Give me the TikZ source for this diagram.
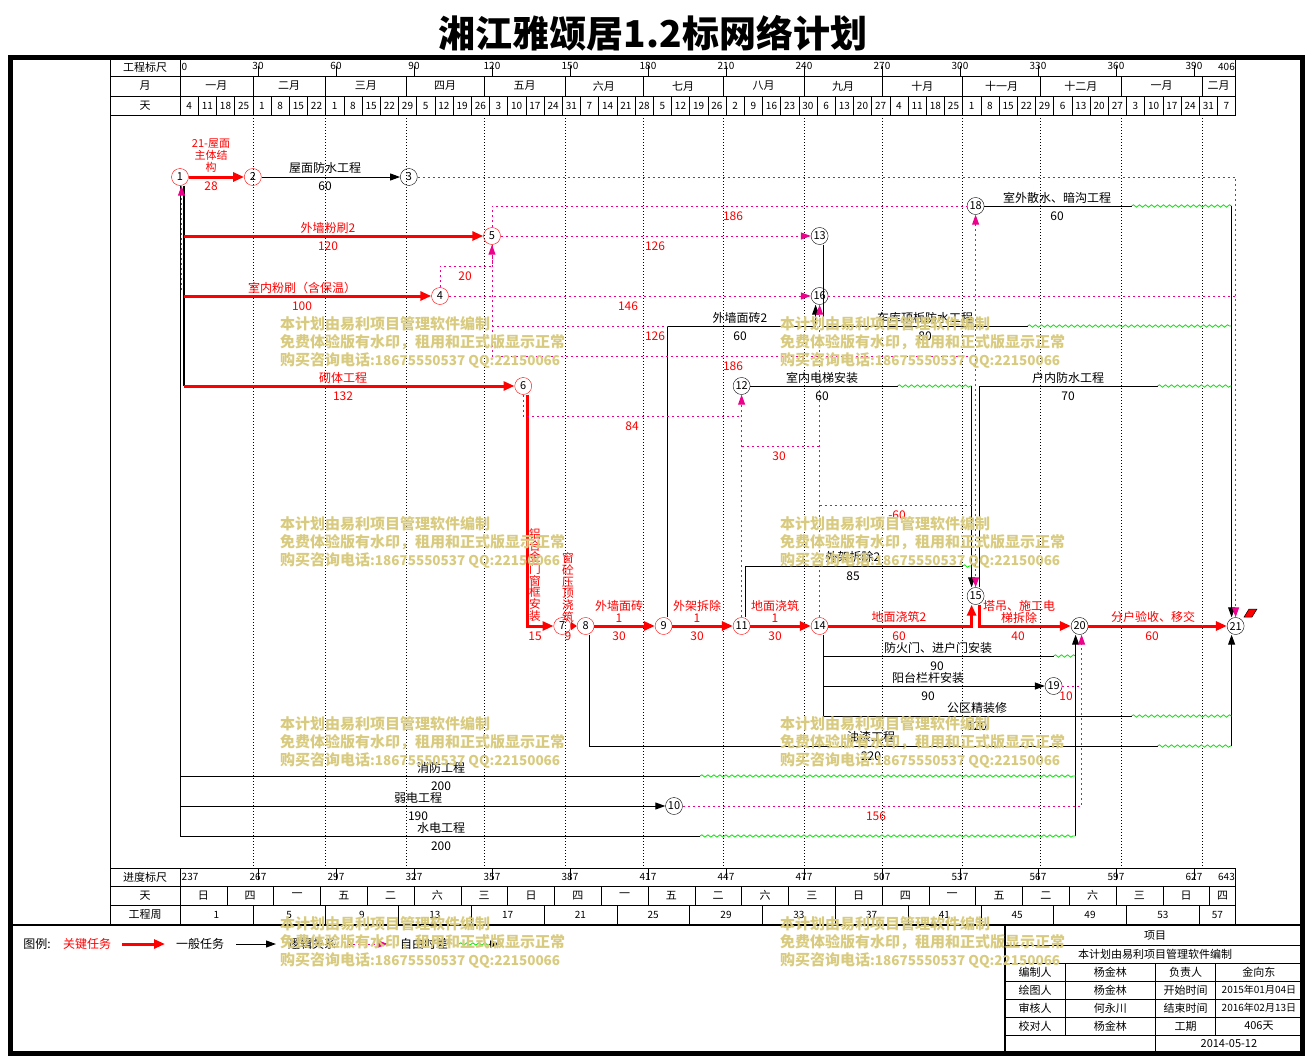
\documentclass[tikz,border=0pt]{standalone}
\usepackage{fontspec}
\setmainfont{Noto Sans CJK SC}
\usetikzlibrary{arrows.meta,decorations.pathmorphing,positioning}
\definecolor{wmark}{RGB}{216,203,128}
\definecolor{fltgreen}{RGB}{0,230,0}
\newcommand\fsz[1]{\fontsize{#1}{#1}\selectfont}

\begin{document}
\begin{tikzpicture}[x=1pt,y=-1pt,
    ev/.style={circle,draw,minimum size=17pt,inner sep=0pt,font=\fsz{11}},
    evr/.style={ev,draw=red},
    crit/.style={draw=red,line width=3pt,-{Triangle[length=11pt,width=9pt]}},
    gen/.style={draw=black,line width=1pt,-{Triangle[length=10pt,width=7pt]}},
    dum/.style={draw=magenta,line width=1pt,dash pattern=on 2pt off 3pt,-{Triangle[length=10pt,width=7pt]}},
    fl/.style={draw=fltgreen,line width=0.8pt,decorate,decoration={snake,amplitude=1.2pt,segment length=6pt}},
    grid/.style={line width=0.6pt,dash pattern=on 1pt off 2pt},
    t/.style={font=\fsz{12},inner sep=0pt},
    tr/.style={t,text=red},
    hd/.style={font=\fsz{11},inner sep=0pt},
    dn/.style={font=\fsz{10},inner sep=0pt},
    wm/.style={font=\fsz{15}\bfseries,text=wmark,inner sep=0pt,anchor=west}]
\useasboundingbox (0,0) rectangle (1309,1060);

% title and frame
\node[font=\fsz{37}\bfseries] (title) at (653,33) {湘江雅颂居1.2标网络计划};
\draw[line width=5pt] (10.5,57.5) rectangle (1302.5,1053.5);

% time scale table
\draw[line width=1pt] (110,76) -- (1235.6,76) (110,96) -- (1235.6,96) (110,115) -- (1235.6,115)
    (110,868) -- (1235.6,868) (110,886) -- (1235.6,886) (110,905) -- (1235.6,905);
\draw[line width=1pt] (110,57) -- (110,925) (180,57) -- (180,115) (180,868) -- (180,925)
    (1235.6,57) -- (1235.6,115) (1235.6,868) -- (1235.6,925);
\draw[line width=2.5pt] (10,925) -- (1303,925);
\node[hd] (hscale) at (145,67) {工程标尺};
\node[hd] (hmonth) at (145,86) {月};
\node[hd] (hday) at (145,105.5) {天};
\node[hd] (fscale) at (145,877) {进度标尺};
\node[hd] (fday) at (145,895.5) {天};
\node[hd] (fweek) at (145,914.5) {工程周};
\node[dn,anchor=west] (tk0) at (181.5,67) {0};
\node[dn,anchor=east] (tk406) at (1235,67) {406};
\node[dn,anchor=west] (pk0) at (181.5,877) {237};
\node[dn,anchor=east] (pk406) at (1235,877) {643};
\foreach \d in {30,60,...,390} {
    \pgfmathtruncatemacro\p{237+\d}
    \draw ({180+2.6*\d},66) -- ({180+2.6*\d},76);
    \node[dn] (tk\d) at ({180+2.6*\d},66) {\d};
    \draw ({180+2.6*\d},868) -- ({180+2.6*\d},880);
    \node[dn] (pk\d) at ({180+2.6*\d},877) {\p};
}
\foreach \a/\b/\m in {0/28/一月,28/56/二月,56/87/三月,87/117/四月,117/148/五月,148/178/六月,
    178/209/七月,209/240/八月,240/270/九月,270/301/十月,301/331/十一月,331/362/十二月,362/393/一月,393/406/二月} {
    \node[hd] (mo\a) at ({180+1.3*(\a+\b)},86) {\m};
    \ifnum\b<406
      \draw ({180+2.6*\b},76) -- ({180+2.6*\b},96);
      \draw[grid] ({180+2.6*\b},115) -- ({180+2.6*\b},868);
    \fi
}
\foreach \tx [count=\k from 0] in {4,11,18,25,1,8,15,22,1,8,15,22,29,5,12,19,26,3,10,17,24,31,7,14,21,28,
    5,12,19,26,2,9,16,23,30,6,13,20,27,4,11,18,25,1,8,15,22,29,6,13,20,27,3,10,17,24,31,7} {
    \node[dn] (wd\k) at ({180+2.6*(7*\k+3.5)},105.5) {\tx};
    \ifnum\k<57 \draw ({180+18.2*(\k+1)},96) -- ({180+18.2*(\k+1)},115); \fi
}
\foreach \tx [count=\k from 0] in {日,四,一,五,二,六,三,日,四,一,五,二,六,三,日,四,一,五,二,六,三,日,四} {
    \pgfmathsetmacro\c{min(18*\k+9,(18*\k+406)/2)}
    \node[hd] (wk\k) at ({180+2.6*\c},895.5) {\tx};
    \ifnum\k<22 \draw ({180+46.8*(\k+1)},886) -- ({180+46.8*(\k+1)},905); \fi
}
\foreach \k in {0,...,14} {
    \pgfmathsetmacro\c{min(28*\k+14,(28*\k+406)/2)}
    \pgfmathtruncatemacro\w{4*\k+1}
    \node[dn] (pw\k) at ({180+2.6*\c},914.5) {\w};
    \ifnum\k<14 \draw ({180+72.8*(\k+1)},905) -- ({180+72.8*(\k+1)},925); \fi
}

% events
\node[evr] (n1) at (180,177) {1};
\node[evr] (n2) at (252.8,177) {2};
\node[ev] (n3) at (408.8,177) {3};
\node[evr] (n4) at (440,296) {4};
\node[evr] (n5) at (492,236) {5};
\node[evr] (n6) at (523.2,386) {6};
\node[evr] (n7) at (562.2,626) {7};
\node[evr] (n8) at (585.6,626) {8};
\node[evr] (n9) at (663.6,626) {9};
\node[ev] (n10) at (674,806) {10};
\node[evr] (n11) at (741.6,626) {11};
\node[ev] (n12) at (741.6,386) {12};
\node[ev] (n13) at (819.6,236) {13};
\node[evr] (n14) at (819.6,626) {14};
\node[ev] (n15) at (975.6,596) {15};
\node[ev] (n16) at (819.6,296) {16};
\node[ev] (n18) at (975.6,206) {18};
\node[ev] (n19) at (1053.6,686) {19};
\node[ev] (n20) at (1079.6,626) {20};
\node[ev] (n21) at (1235.6,626) {21};
\fill[red,draw=black,line width=0.5pt] (1244,617) -- (1249,609) -- (1257,609) -- (1252,617) -- cycle;

% trunks from event 1
\coordinate (t1) at ([xshift=4pt]n1.south);
\draw[line width=2.5pt] (t1) -- (t1 |- n6);
\draw[line width=1pt] (n1.south) -- (180,836);

% critical tasks
\draw[crit] (n1) -- (n2);
\draw[crit] (t1 |- n5) -- (n5);
\draw[crit] (t1 |- n4) -- (n4);
\draw[crit] (t1 |- n6) -- (n6);
\draw[crit] ([xshift=4pt]n6.south) |- (n7);
\draw[crit,-{Triangle[length=6pt,width=8pt]}] (n7) -- (n8);
\draw[crit] (n8) -- (n9);
\draw[crit] (n9) -- (n11);
\draw[crit] (n11) -- (n14);
\draw[crit] (n14) -| ([xshift=-4pt]n15.south);
\draw[crit] ([xshift=4pt]n15.south) |- (n20);
\draw[crit] (n20) -- (n21);

% general tasks
\draw[gen] (n2) -- (n3);
\draw[gen] ([xshift=4pt]n9.north) |- (815.6,326) -- ([xshift=-4pt]n16.south);
\draw[gen,-] ([xshift=4pt]n13.south) |- (1027.6,326);
\draw[fl] (1027.6,326) -- (1231.6,326);
\draw[gen,-] (n18) -- (1131.6,206);
\draw[fl] (1131.6,206) -- (1231.6,206);
\draw[gen] (1231.6,206) -- ([xshift=-4pt]n21.north);
\draw[gen,-] (n12) -- (897.6,386);
\draw[fl] (897.6,386) -- (971.6,386);
\draw[gen] (971.6,386) -- ([xshift=-4pt]n15.north);
\draw[gen,-] ([xshift=4pt]n15.north) |- (1157.6,386);
\draw[fl] (1157.6,386) -- (1231.6,386);
\draw[gen,-] ([xshift=4pt]n11.north) |- (962.6,566);
\draw[fl] (962.6,566) -- (971.6,566);
\draw[gen,-] ([xshift=4pt]n8.south) |- (1157.6,746);
\draw[fl] (1157.6,746) -- (1231.6,746);
\draw[gen] (1231.6,746) -- ([xshift=-4pt]n21.south);
\draw[gen,-] ([xshift=4pt]n14.south) |- (1131.6,716);
\draw[fl] (1131.6,716) -- (1231.6,716);
\draw[gen,-] (823.6,656) -- (1053.6,656);
\draw[fl] (1053.6,656) -- (1075.6,656);
\draw[gen] (823.6,686) -- (n19);
\draw[gen] (1075.6,836) -- ([xshift=-4pt]n20.south);
\draw[gen,-] (180,776) -- (700,776);
\draw[fl] (700,776) -- (1075.6,776);
\draw[gen] (180,806) -- (n10);
\draw[gen,-] (180,836) -- (700,836);
\draw[fl] (700,836) -- (1075.6,836);

% logic links and free float
\draw[dum] (181.5,290) -- ([xshift=1.5pt]n1.south);
\draw[dum] (n3) -| (n21.north);
\draw[dum,-] (n5.north) |- (n18);
\draw[dum] (n5) -- (n13);
\draw[dum,-] (n5.south) -- (492,356) -- (975.6,356);
\draw[dum,-] (492,326) -- (667.6,326);
\draw[dum] (n4.north) |- (492,266) -- (n5.south);
\draw[dum] (n4) -- (n16);
\draw[dum,-] (n16) -- (1235.6,296);
\draw[dum,-] (n6.south) |- (741.6,416);
\draw[dum] (n11.north) -- (n12.south);
\draw[dum,-] (741.6,446) -- (819.6,446);
\draw[dum] (n14.north) -- (n16.south);
\draw[dum,-] (819.6,505) -- (975.6,505);
\draw[dum,{Triangle[length=10pt,width=7pt]}-{Triangle[length=10pt,width=7pt]}] (n18.south) -- (n15.north);
\draw[dum,-] (n19) -- (1081.6,686);
\draw[dum] (n10) -| ([xshift=2pt]n20.south);

% task labels
\node[tr,align=center,font=\fontsize{11}{12}\selectfont] (l12) at (211,156) {21-屋面\\主体结\\构};
\node[tr] (d12) at (211,186) {28};
\node[t] (l23) at (325,168) {屋面防水工程};
\node[t] (d23) at (325,186) {60};
\node[tr] (l15) at (328,228) {外墙粉刷2};
\node[tr] (d15) at (328,246) {120};
\node[tr] (l14) at (302,288) {室内粉刷（含保温）};
\node[tr] (d14) at (302,306) {100};
\node[tr] (l16) at (343,378) {砌体工程};
\node[tr] (d16) at (343,396) {132};
\node[tr,align=center,font=\fontsize{11.7}{11.7}\selectfont] (l67) at (535,575) {铝\\合\\金\\门\\窗\\框\\安\\装};
\node[tr] (d67) at (535,636) {15};
\node[tr,align=center,font=\fontsize{11.7}{11.7}\selectfont] (l78) at (568,587.5) {窗\\砼\\压\\顶\\浇\\筑};
\node[tr] (d78) at (568,636) {9};
\node[tr,align=center,font=\fontsize{12}{12}\selectfont] (l89) at (619,611) {外墙面砖\\1};
\node[tr] (d89) at (619,636) {30};
\node[tr,align=center,font=\fontsize{12}{12}\selectfont] (l911) at (697,611) {外架拆除\\1};
\node[tr] (d911) at (697,636) {30};
\node[tr,align=center,font=\fontsize{12}{12}\selectfont] (l1114) at (775,611) {地面浇筑\\1};
\node[tr] (d1114) at (775,636) {30};
\node[tr] (l1415) at (899,617) {地面浇筑2};
\node[tr] (d1415) at (899,636) {60};
\node[tr,align=center,font=\fontsize{12}{12}\selectfont] (l1520) at (1019,612) {塔吊、施工电\\梯拆除};
\node[tr] (d1520) at (1018,636) {40};
\node[tr] (l2021) at (1153,617) {分户验收、移交};
\node[tr] (d2021) at (1152,636) {60};
\node[t] (l916) at (740,318) {外墙面砖2};
\node[t] (d916) at (740,336) {60};
\node[t] (l1321) at (925,318) {车库顶板防水工程};
\node[t] (d1321) at (925,336) {80};
\node[t] (l1215) at (822,378) {室内电梯安装};
\node[t] (d1215) at (822,396) {60};
\node[t] (l1521) at (1068,378) {户内防水工程};
\node[t] (d1521) at (1068,396) {70};
\node[t] (l1821) at (1057,198) {室外散水、暗沟工程};
\node[t] (d1821) at (1057,216) {60};
\node[t] (l1115) at (853,557) {外架拆除2};
\node[t] (d1115) at (853,576) {85};
\node[t] (l1420) at (938,648) {防火门、进户门安装};
\node[t] (d1420) at (937,666) {90};
\node[t] (l1419) at (928,678) {阳台栏杆安装};
\node[t] (d1419) at (928,696) {90};
\node[t] (l1421) at (977,708) {公区精装修};
\node[t] (d1421) at (977,726) {120};
\node[t] (l821) at (871,737) {油漆工程};
\node[t] (d821) at (871,756) {220};
\node[t] (lxf) at (441,768) {消防工程};
\node[t] (dxf) at (441,786) {200};
\node[t] (l110) at (418,798) {弱电工程};
\node[t] (d110) at (418,816) {190};
\node[t] (lsd) at (441,828) {水电工程};
\node[t] (dsd) at (441,846) {200};

% free float values
\node[tr] (f518) at (733,216) {186};
\node[tr] (f513) at (655,246) {126};
\node[tr] (f45) at (465,276) {20};
\node[tr] (f416) at (628,306) {146};
\node[tr] (f59) at (655,336) {126};
\node[tr] (f515) at (733,366) {186};
\node[tr] (f612) at (632,426) {84};
\node[tr] (f1216) at (779,456) {30};
\node[tr] (f1415) at (897,515) {-60};
\node[tr] (f1920) at (1066,696) {10};
\node[tr] (f1020) at (876,816) {156};

% legend
\node[t] (lg0) at (37,944) {图例:};
\node[tr] (lg1) at (87,944) {关键任务};
\draw[crit] (122,944) -- (165,944);
\node[t] (lg2) at (200,944) {一般任务};
\draw[gen] (236,944) -- (276,944);
\node[t] (lg3) at (312,944) {逻辑关系};
\draw[dum] (348,944) -- (388,944);
\node[t] (lg4) at (424,944) {自由时差};
\draw[fl] (459,944) -- (490,944);
\draw[gen] (489,944) -- (500,944);

% title block
\draw[line width=1.5pt] (1005,925) -- (1005,1053);
\draw[line width=1pt] (1005,945) -- (1302,945) (1005,963) -- (1302,963) (1005,981) -- (1302,981)
    (1005,999) -- (1302,999) (1005,1017) -- (1302,1017) (1005,1035) -- (1302,1035);
\draw[line width=1pt] (1065,963) -- (1065,1035) (1155.7,963) -- (1155.7,1053) (1215.7,963) -- (1215.7,1035);
\node[hd] (tb0) at (1155,936) {项目};
\node[hd] (tb1) at (1155,954) {本计划由易利项目管理软件编制};
\node[hd] (tb2) at (1035,972) {编制人};
\node[hd] (tb3) at (1110.4,972) {杨金林};
\node[hd] (tb4) at (1185.7,972) {负责人};
\node[hd] (tb5) at (1258.9,972) {金向东};
\node[hd] (tb6) at (1035,990) {绘图人};
\node[hd] (tb7) at (1110.4,990) {杨金林};
\node[hd] (tb8) at (1185.7,990) {开始时间};
\node[dn] (tb9) at (1258.9,990) {2015年01月04日};
\node[hd] (tb10) at (1035,1008) {审核人};
\node[hd] (tb11) at (1110.4,1008) {何永川};
\node[hd] (tb12) at (1185.7,1008) {结束时间};
\node[dn] (tb13) at (1258.9,1008) {2016年02月13日};
\node[hd] (tb14) at (1035,1026) {校对人};
\node[hd] (tb15) at (1110.4,1026) {杨金林};
\node[hd] (tb16) at (1185.7,1026) {工期};
\node[hd] (tb17) at (1258.9,1026) {406天};
\node[hd] (tb18) at (1228.9,1044) {2014-05-12};

% watermark
\foreach \wx in {280,780} \foreach \wy in {324,524,724,924} {
    \node[wm] (wa\wx\wy) at (\wx,\wy) {本计划由易利项目管理软件编制};
    \node[wm] (wb\wx\wy) at (\wx,\wy+18) {免费体验版有水印，租用和正式版显示正常};
    \node[wm] (wc\wx\wy) at (\wx,\wy+36) {购买咨询电话\fsz{13.5}:18675550537 QQ:22150066};
}
\end{tikzpicture}
\end{document}
